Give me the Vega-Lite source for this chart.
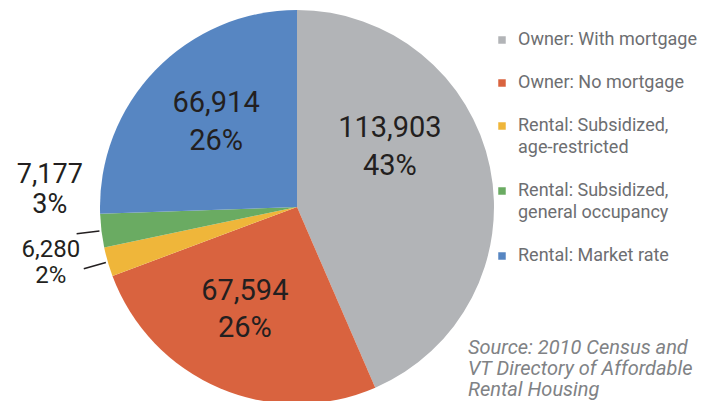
{
  "$schema": "https://vega.github.io/schema/vega-lite/v6.json",
  "width": 594,
  "height": 414,
  "autosize": {"type": "none"},
  "padding": {"left": 0, "top": 0, "right": 114, "bottom": 0},
  "background": "white",
  "config": {"view": {"stroke": null}, "font": "Roboto"},
  "title": {
    "text": ["Source: 2010 Census and", "VT Directory of Affordable", "Rental Housing"],
    "orient": "bottom", "anchor": "end", "frame": "group", "align": "left",
    "font": "Roboto", "fontStyle": "italic", "fontWeight": "normal",
    "fontSize": 20, "color": "#808285", "lineHeight": 21, "dx": -126, "dy": -110, "offset": 0, "baseline": "top"
  },
  "data": {"values": [
    {"cat": "Owner: With mortgage", "units": 113903, "rank": 1, "label": "113,903\n43%"},
    {"cat": "Owner: No mortgage", "units": 67594, "rank": 2, "label": "67,594\n26%"},
    {"cat": "Rental: Subsidized, age-restricted", "units": 6280, "rank": 3, "label": "6,280\n2%"},
    {"cat": "Rental: Subsidized, general occupancy", "units": 7177, "rank": 4, "label": "7,177\n3%"},
    {"cat": "Rental: Market rate", "units": 66914, "rank": 5, "label": "66,914\n26%"}
  ]},
  "encoding": {
    "theta": {"field": "units", "type": "quantitative", "stack": true},
    "order": {"field": "rank", "type": "quantitative"}
  },
  "layer": [
    {
      "mark": {"type": "arc", "outerRadius": 197},
      "encoding": {
        "color": {
          "field": "cat", "type": "nominal",
          "scale": {
            "domain": ["Owner: With mortgage", "Owner: No mortgage", "Rental: Subsidized, age-restricted", "Rental: Subsidized, general occupancy", "Rental: Market rate"],
            "range": ["#b2b4b7", "#d9633f", "#efb63a", "#6aab62", "#5786c2"]
          },
          "legend": {
            "orient": "none", "legendX": 493, "legendY": 31, "title": null,
            "symbolType": "square", "symbolSize": 56, "symbolStrokeWidth": 0,
            "labelFont": "Roboto", "labelFontSize": 18, "labelColor": "#6d6e71",
            "labelOffset": 7, "rowPadding": 25, "labelLimit": 300,
            "labelExpr": "datum.label == 'Rental: Subsidized, age-restricted' ? ['Rental: Subsidized,', 'age-restricted'] : datum.label == 'Rental: Subsidized, general occupancy' ? ['Rental: Subsidized,', 'general occupancy'] : datum.label",
            "encode": {"labels": {"update": {"lineHeight": {"value": 22}}}}
          }
        }
      }
    },
    {
      "mark": {"type": "arc", "filled": false, "innerRadius": 199, "outerRadius": 222, "padAngle": 1, "stroke": "#231f20", "strokeWidth": 1.5},
      "encoding": {"opacity": {"condition": {"test": "datum.units < 10000", "value": 1}, "value": 0}}
    },
    {
      "mark": {"type": "text", "radius": 100, "dx": -5, "dy": -50, "fontSize": 29, "lineBreak": "\n", "lineHeight": 38, "baseline": "alphabetic", "align": "center", "fill": "#231f20"},
      "encoding": {"text": {"field": "label"}, "opacity": {"condition": {"test": "datum.cat === 'Owner: With mortgage'", "value": 1}, "value": 0}}
    },
    {
      "mark": {"type": "text", "radius": 100, "dx": -9, "dy": -26, "fontSize": 29, "lineBreak": "\n", "lineHeight": 38, "baseline": "alphabetic", "align": "center", "fill": "#231f20"},
      "encoding": {"text": {"field": "label"}, "opacity": {"condition": {"test": "datum.cat === 'Rental: Market rate'", "value": 1}, "value": 0}}
    },
    {
      "mark": {"type": "text", "radius": 100, "dx": -13, "dy": 1, "fontSize": 29, "lineBreak": "\n", "lineHeight": 37, "baseline": "alphabetic", "align": "center", "fill": "#231f20"},
      "encoding": {"text": {"field": "label"}, "opacity": {"condition": {"test": "datum.cat === 'Owner: No mortgage'", "value": 1}, "value": 0}}
    },
    {
      "mark": {"type": "text", "radius": 250, "dx": 1, "dy": -54, "fontSize": 27, "lineBreak": "\n", "lineHeight": 30, "baseline": "alphabetic", "align": "center", "fill": "#231f20"},
      "encoding": {"text": {"field": "label"}, "opacity": {"condition": {"test": "datum.cat === 'Rental: Subsidized, general occupancy'", "value": 1}, "value": 0}}
    },
    {
      "mark": {"type": "text", "radius": 250, "dx": -6, "dy": -20, "fontSize": 24, "lineBreak": "\n", "lineHeight": 26, "baseline": "alphabetic", "align": "center", "fill": "#231f20"},
      "encoding": {"text": {"field": "label"}, "opacity": {"condition": {"test": "datum.cat === 'Rental: Subsidized, age-restricted'", "value": 1}, "value": 0}}
    }
  ]
}
